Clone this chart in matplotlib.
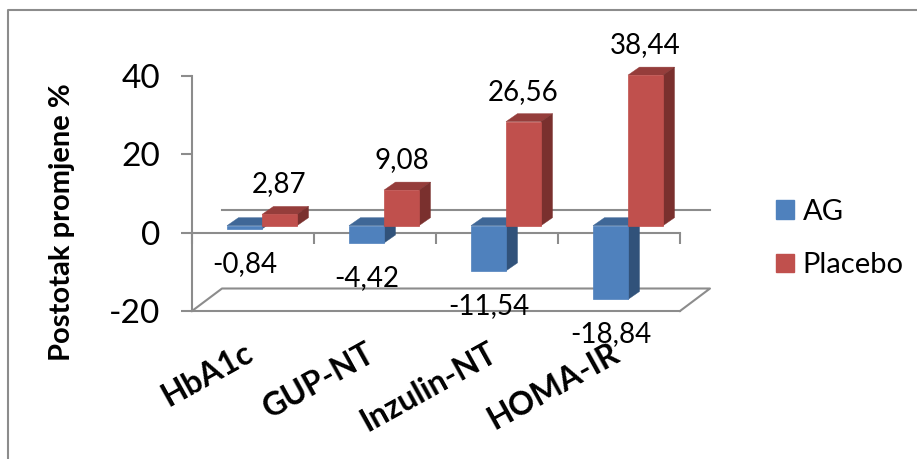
import matplotlib
matplotlib.use('Agg')
import matplotlib.pyplot as plt
from matplotlib.lines import Line2D
from matplotlib.patches import Polygon, Patch
from matplotlib.transforms import ScaledTranslation

categories = ['HbA1c', 'GUP-NT', 'Inzulin-NT', 'HOMA-IR']
ag = [-0.84, -4.42, -11.54, -18.84]
placebo = [2.87, 9.08, 26.56, 38.44]
ag_labels = ['-0,84', '-4,42', '-11,54', '-18,84']
placebo_labels = ['2,87', '9,08', '26,56', '38,44']
yticks = [-20, 0, 20, 40]

W, H = 917, 459
GREY = '#8c8c8c'
plt.rcParams['font.family'] = ['Lato', 'DejaVu Sans']
plt.rcParams['axes.unicode_minus'] = False

fig = plt.figure(figsize=(W / 100, H / 100), dpi=100)
ax = fig.add_axes([192 / W, (H - 311) / H, 488 / W, 235 / H])
ax.set_xlim(0, 4)
ax.set_ylim(-20, 40)
ax.patch.set_visible(False)

# one pixel in data units
ux = 4 / 488
uy = 60 / 235

# frame round the chart (only top and left show)
fig.add_artist(Line2D([8 / W, 8 / W, 1], [0, 1 - 10 / H, 1 - 10 / H], color=GREY, lw=1.5))

# axes
for s in ['top', 'right']:
    ax.spines[s].set_visible(False)
ax.spines['bottom'].set_position(('data', 0))
for s in ['left', 'bottom']:
    ax.spines[s].set_color(GREY)
    ax.spines[s].set_linewidth(1.5)
ax.set_yticks(yticks)
ax.tick_params(axis='y', length=8, width=1.5, color=GREY, labelsize=24, pad=15, labelcolor='black')
ax.set_xticks(range(5))
ax.set_xticklabels([])
ax.tick_params(axis='x', which='major', length=8, width=1.5, color=GREY)
ax.set_xticks([i + 0.5 for i in range(4)], categories, minor=True, rotation=29, ha='right',
              rotation_mode='anchor', fontsize=23, fontweight='bold')
ax.tick_params(axis='x', which='minor', length=0, pad=76)
shift = ScaledTranslation(-9 / 100, 0, fig.dpi_scale_trans)
for lab in ax.get_xticklabels(minor=True):
    lab.set_transform(lab.get_transform() + shift)
ax.set_ylabel('Postotak promjene %', fontsize=21, fontweight='bold')
ax.yaxis.set_label_coords(-0.24, 0.38)

# floor and back wall
line = dict(color=GREY, lw=1.5, clip_on=False, zorder=1)
back_x = 30 * ux
back_y = 22.5 * uy
ax.plot([0, 4], [-20, -20], **line)
ax.plot([0, back_x, 4 + back_x, 4], [-20, -20 + back_y, -20 + back_y, -20], **line)
ax.plot([back_x, 4 + back_x], [back_y, back_y], **line)

# bars sit a bit behind the front plane
plane_x = 9 * ux
plane_y = 7 * uy
dx = 11.5 * ux
dy = 8 * uy
bw = 35 * ux


def bar3d(x, v, front, top, side, z):
    y0 = plane_y + min(v, 0)
    y1 = plane_y + max(v, 0)
    ax.bar(x, y1 - y0, bw, bottom=y0, align='edge', color=front, edgecolor=front, lw=0.5,
           zorder=z + 0.2, clip_on=False)
    ax.add_patch(Polygon([(x, y1), (x + dx, y1 + dy), (x + bw + dx, y1 + dy), (x + bw, y1)],
                         fc=top, ec=top, lw=0.3, zorder=z, clip_on=False))
    ax.add_patch(Polygon([(x + bw, y0), (x + bw + dx, y0 + dy), (x + bw + dx, y1 + dy), (x + bw, y1)],
                         fc=side, ec=side, lw=0.3, zorder=z, clip_on=False))


for i in range(4):
    left = i + 0.5 + plane_x - bw
    bar3d(left, ag[i], '#4f81bd', '#3f6797', '#31527a', 3)
    bar3d(left + bw, placebo[i], '#c0504d', '#953d3b', '#7a302e', 4)
    ax.annotate(ag_labels[i], (left + bw / 2, plane_y + ag[i]), xytext=(0, -35 * 0.72),
                textcoords='offset points', ha='center', va='center', fontsize=20, zorder=6,
                annotation_clip=False)
    ax.annotate(placebo_labels[i], (left + 1.5 * bw, plane_y + placebo[i]), xytext=(0, 30 * 0.72),
                textcoords='offset points', ha='center', va='center', fontsize=20, zorder=6,
                annotation_clip=False)

handles = [Patch(color='#4f81bd', label='AG'), Patch(color='#c0504d', label='Placebo')]
fig.legend(handles=handles, loc='center left', bbox_to_anchor=(750 / W, 1 - 238.5 / H), frameon=False,
           fontsize=21, handlelength=0.6, handleheight=0.6, handletextpad=0.3, labelspacing=0.95)

fig.savefig('out.png', dpi=100)
